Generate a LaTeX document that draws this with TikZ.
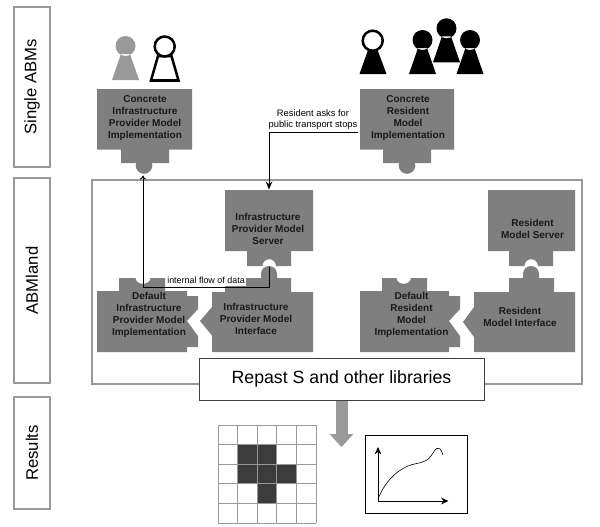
\documentclass[tikz,border=0pt]{standalone}
\usepackage{fontspec}
\setmainfont{Liberation Sans}
\usetikzlibrary{arrows.meta}
\definecolor{piece}{HTML}{7F7F7F}
\definecolor{rule}{HTML}{999999}
\definecolor{cell}{HTML}{3C3C3C}
\tikzset{
  piecefill/.style={fill=piece,draw=none},
  piecetext/.style={align=center,inner sep=0pt,text=black!90,font=\bfseries\fontsize{7.5}{8.95}\selectfont},
  sidelabel/.style={draw=rule,line width=1.7pt,rotate=90,minimum height=27pt,inner sep=0pt,font=\fontsize{12.5}{15}\selectfont},
  flow/.style={draw=black,line width=0.65pt},
  flowlabel/.style={inner sep=0pt,align=center,font=\fontsize{7}{8.4}\selectfont}
}
% Pawn figure: head centre x,y; base half-width and drop are fixed
\newcommand{\pawnshape}[2]{(#1-4.5,#2+8) -- (#1-13.5,#2+34) -- (#1+13.5,#2+34) -- (#1+4.5,#2+8) -- cycle (#1+10,#2) arc[start angle=0,end angle=360,radius=10]}
\begin{document}
\begin{tikzpicture}[x=0.75pt,y=0.75pt,yscale=-1]
\useasboundingbox (0,0) rectangle (600,526);
\fill[white] (0,0) rectangle (600,526);

% Row captions
\node[sidelabel,minimum width=120pt] (single) at (32,87) {Single ABMs};
\node[sidelabel,minimum width=153.75pt] (land) at (32,280.5) {ABMland};
\node[sidelabel,minimum width=84pt] (results) at (32,453) {Results};

% Agent pawns
\fill[rule] \pawnshape{125.5}{46};
\draw[black,line width=1.9pt,fill=white] (158,56) -- (151,80.5) -- (178.5,80.5) -- (171.5,56) -- cycle;
\draw[black,line width=1.9pt,fill=white] (164.7,46.5) circle[radius=10];
\fill[black] (368,50) -- (359.5,74) -- (386.5,74) -- (377.5,50) -- cycle;
\draw[black,line width=1.9pt,fill=white] (372.7,40.7) circle[radius=10];
\fill[black] \pawnshape{422.5}{40};
\fill[black] \pawnshape{446.5}{28.3};
\fill[black] \pawnshape{470}{40};

% ABMland frame
\draw[rule,line width=2.1pt] (92,180) rectangle (582,384);

% Concrete implementations with a round plug below
\path[piecefill] (97,89) -- (192,89) -- (192,149.5) -- (169,149.5) -- (169,163) -- (121,163) -- (121,149.5) -- (97,149.5) -- cycle;
\path[piecefill] (360,89) -- (454,89) -- (454,149.5) -- (431,149.5) -- (431,163) -- (383,163) -- (383,149.5) -- (360,149.5) -- cycle;
\fill[piece] (144,165.5) circle[radius=8.3];
\fill[piece] (407,165.5) circle[radius=8.3];

% Servers with a round socket below
\path[piecefill] (225,190) -- (313,190) -- (313,251) -- (291,251) -- (291,266) -- (276,266)
  arc[start angle=0,end angle=-180,radius=6.8] -- (247,266) -- (247,251) -- (225,251) -- cycle;
\path[piecefill] (488,190) -- (575,190) -- (575,251) -- (553,251) -- (553,266) -- (538,266)
  arc[start angle=0,end angle=-180,radius=6.8] -- (509,266) -- (509,251) -- (488,251) -- cycle;

% Interfaces: plug on top, pointed nose on the left
\path[piecefill] (225,292) -- (225,278) -- (261,278) -- (261,274)
  arc[start angle=180,end angle=360,radius=8] -- (277,278) -- (291,278) -- (291,292) -- (313,292)
  -- (313,352) -- (212,352) -- (212,335.5) -- (200,321) -- (212,307) -- (212,292) -- cycle;
\path[piecefill] (474,292) -- (509,292) -- (509,278) -- (523,278) -- (523,274)
  arc[start angle=180,end angle=360,radius=8] -- (539,278) -- (554,278) -- (554,292) -- (575,292)
  -- (575,352) -- (474,352) -- (474,337) -- (463,322) -- (474,307) -- cycle;

% Default implementations: socket on top, notch on the right
\path[piecefill] (97,291) -- (119,291) -- (119,278) -- (135.5,278)
  arc[x radius=7.5,y radius=5.8,start angle=180,end angle=0] -- (165,278) -- (165,291) -- (187,291)
  -- (187,296) -- (198,296) -- (198,309) -- (187,321) -- (198,336) -- (198,347) -- (187,347)
  -- (187,352) -- (97,352) -- cycle;
\path[piecefill] (360,291) -- (382,291) -- (382,278) -- (396.5,278)
  arc[x radius=7.2,y radius=5.8,start angle=180,end angle=0] -- (427,278) -- (427,291) -- (449,291)
  -- (449,296) -- (460,296) -- (460,309) -- (449,321) -- (460,336) -- (460,347) -- (449,347)
  -- (449,352) -- (360,352) -- cycle;

% Piece captions
\node[piecetext] (concreteInfra) at (145,118) {Concrete\\Infrastructure\\Provider Model\\Implementation};
\node[piecetext] (concreteRes) at (408,118) {Concrete\\Resident\\Model\\Implementation};
\node[piecetext] (infraServer) at (268,228.7) {Infrastructure\\Provider Model\\Server};
\node[piecetext] (resServer) at (532.5,229) {Resident\\Model Server};
\node[piecetext] (defaultInfra) at (149,315) {Default\\Infrastructure\\Provider Model\\Implementation};
\node[piecetext] (infraIface) at (256,318.7) {Infrastructure\\Provider Model\\Interface};
\node[piecetext] (defaultRes) at (411.5,315) {Default\\Resident\\Model\\Implementation};
\node[piecetext] (resIface) at (520,316.7) {Resident\\Model Interface};

% Data flows
\coordinate (askStart) at (358,132);
\coordinate (askEnd) at (269,189.5);
\coordinate (flowStart) at (269,266.5);
\coordinate (flowCorner) at (143,287);
\coordinate (flowEnd) at (143,175.5);
\draw[flow,-{Stealth[length=6pt,width=5pt]}] (askStart) -| (askEnd);
\node[flowlabel,anchor=south] (askLabel) at (313,130) {Resident asks for\\public transport stops};
\draw[flow,-{To[length=3pt,width=4.5pt]}] (flowStart) |- (flowCorner) -- (flowEnd);
\node[flowlabel,fill=white,anchor=south,inner xsep=1pt,inner ysep=1.5pt,minimum width=58.5pt,font=\fontsize{6.7}{8}\selectfont] (flowLabel) at (206,286) {internal flow of data};

% Shared library bar and the arrow out of it
\node[draw=black!75,line width=0.75pt,fill=white,minimum width=213.75pt,minimum height=31.5pt,inner sep=0pt,font=\fontsize{13.3}{16}\selectfont] (repast) at (341.5,379) {Repast S and other libraries};
\coordinate (resultsTip) at (341.5,447);
\draw[rule,line width=9pt,-{Triangle[width=17.25pt,length=9.75pt]}] (repast.south) -- (resultsTip);

% Result grid
\fill[cell] (237.6,444.6) rectangle (276.8,464.2);
\fill[cell] (237.6,464.2) rectangle (296.4,483.8);
\fill[cell] (257.2,483.8) rectangle (276.8,503.4);
\foreach \i in {0,...,5} {
  \draw[rule,line width=0.75pt] (218+19.6*\i,425) -- (218+19.6*\i,523);
  \draw[rule,line width=0.75pt] (218,425+19.6*\i) -- (316,425+19.6*\i);
}

% Result chart
\draw[black,line width=0.75pt] (365,435) rectangle (467,513);
\coordinate (origin) at (378,501);
\coordinate (yTop) at (378,447);
\coordinate (xEnd) at (448.5,501);
\draw[black,line width=0.65pt,{Stealth[length=5.5pt,width=5pt]}-{Stealth[length=5.5pt,width=5pt]}] (yTop) -- (origin) -- (xEnd);
\draw[black,line width=0.45pt] (378,499) .. controls (384,484) and (394,472) .. (408,466)
  .. controls (418,462) and (425,464) .. (431,456) .. controls (435,450) and (439,442) .. (443,455);
\end{tikzpicture}
\end{document}
